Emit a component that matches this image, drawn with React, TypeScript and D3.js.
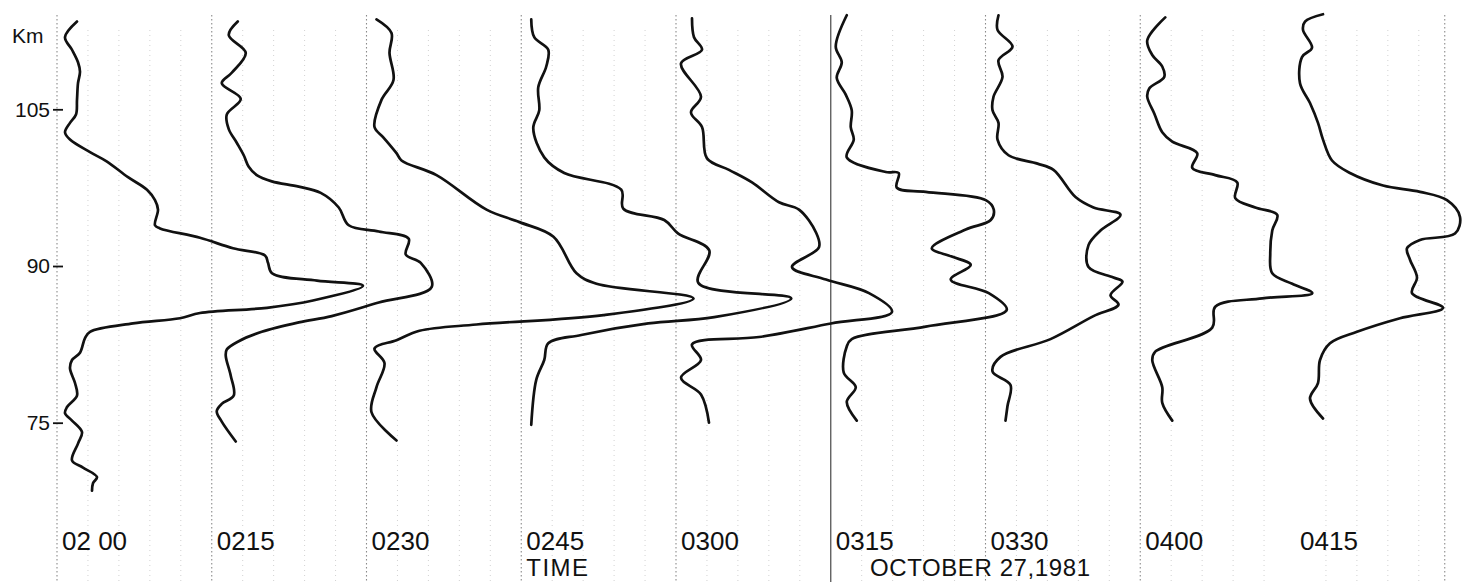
import { useEffect, useRef } from "react";
import { axisLeft, curveCatmullRom, line, scaleLinear, scalePoint, select } from "d3";

// sounding times (0345 is missing in the original figure)
const TIMES = ["0200", "0215", "0230", "0245", "0300", "0315", "0330", "0400", "0415"];
const TIME_LABELS = ["02 00", "0215", "0230", "0245", "0300", "0315", "0330", "0400", "0415"];
const KM_TICKS = [105, 90, 75];

// [altitude km, relative density]
const P0200: [number, number][] = [
  [113.4, 1.5], [111.9, 0.3], [110.7, 1.0], [109.5, 1.6], [108.6, 1.8], [107.5, 1.6],
  [105.9, 1.5], [104.5, 1.4], [103.7, 0.8], [102.8, 0.3], [102.1, 0.8], [100.9, 2.8],
  [100.0, 4.5], [98.5, 6.6], [97.3, 8.5], [96.3, 9.3], [95.4, 9.6], [93.9, 9.3],
  [93.6, 9.8], [92.7, 13.8], [91.7, 17.1], [91.0, 20.3], [90.3, 20.6], [89.3, 21.0],
  [88.6, 25.5], [88.1, 30.1], [86.7, 25.1], [86.0, 20.5], [85.5, 13.8], [85.0, 11.8],
  [84.5, 7.1], [83.7, 2.8], [83.1, 2.3], [81.7, 1.8], [81.0, 1.0], [80.2, 0.8],
  [78.8, 1.3], [77.6, 1.5], [76.5, 0.5], [75.9, 0.3], [75.2, 1.0], [74.1, 2.0],
  [73.0, 1.6], [71.4, 1.0], [70.7, 2.1], [69.8, 3.5], [69.2, 3.1], [68.5, 3.0],
];
const P0215: [number, number][] = [
  [113.4, 2.1], [112.1, 1.2], [110.4, 2.9], [108.5, 1.5], [107.5, 0.5], [106.0, 2.4],
  [104.5, 1.0], [103.1, 1.2], [101.8, 2.0], [100.6, 2.7], [99.5, 3.2], [98.7, 4.0],
  [98.1, 5.5], [97.6, 8.2], [97.0, 10.4], [95.6, 12.2], [93.9, 13.2], [93.3, 16.2],
  [92.6, 19.2], [91.1, 18.9], [90.3, 20.4], [88.0, 21.5], [86.5, 16.2], [85.2, 11.5],
  [84.6, 8.2], [83.7, 4.5], [82.8, 2.2], [82.0, 1.0], [81.4, 0.9], [79.5, 1.4],
  [77.6, 1.7], [76.8, 0.5], [76.1, 0.0], [75.1, 0.5], [73.2, 1.9],
];
const P0230: [number, number][] = [
  [113.6, 0.5], [112.3, 2.0], [110.4, 1.8], [107.8, 2.2], [105.9, 1.0], [103.3, 0.3],
  [102.3, 1.2], [100.8, 2.5], [100.1, 3.0], [98.7, 6.5], [95.4, 11.5], [94.2, 14.8],
  [92.8, 18.2], [89.3, 20.5], [88.3, 22.5], [86.9, 32.2], [85.3, 23.2], [84.4, 10.5],
  [83.8, 4.8], [82.9, 2.5], [82.1, 0.3], [80.7, 1.3], [78.4, 0.5], [76.0, 0.0],
  [73.3, 2.5],
];
const P0245: [number, number][] = [
  [113.6, 0.5], [111.9, 0.8], [110.7, 2.2], [109.1, 2.0], [107.1, 1.2], [104.9, 1.3],
  [103.2, 0.7], [100.4, 1.8], [98.9, 3.8], [97.3, 9.5], [95.5, 9.7], [94.4, 13.8],
  [93.1, 15.2], [91.5, 18.3], [88.4, 17.2], [86.9, 26.5], [85.1, 18.8], [84.5, 12.2],
  [83.4, 5.5], [82.6, 2.2], [81.0, 1.8], [79.1, 1.0], [74.8, 0.5],
];
const P0300: [number, number][] = [
  [113.7, 1.1], [111.9, 1.3], [110.7, 2.1], [109.4, 0.0], [106.2, 2.0], [104.7, 1.0],
  [103.3, 2.1], [100.3, 2.6], [99.2, 4.8], [98.0, 7.1], [96.1, 9.8], [95.4, 11.8],
  [93.2, 13.5], [91.8, 13.8], [89.9, 11.1], [88.7, 14.5], [87.4, 18.8], [85.6, 21.1],
  [84.5, 15.0], [83.2, 7.8], [82.5, 1.1], [81.0, 2.0], [79.3, 0.0], [77.7, 2.0],
  [75.0, 2.8],
];
const P0315: [number, number][] = [
  [114.0, 1.1], [111.0, 0.0], [109.5, 0.6], [108.0, 0.1], [106.4, 1.0], [104.9, 1.6],
  [103.3, 1.5], [102.1, 1.8], [100.4, 1.1], [99.0, 5.0], [98.9, 6.3], [97.5, 6.1],
  [97.1, 9.0], [96.3, 15.0], [95.4, 15.8], [94.4, 15.5], [93.5, 13.0], [91.7, 9.6],
  [90.9, 11.6], [90.1, 13.5], [88.7, 11.5], [87.4, 15.3], [85.8, 17.1], [84.2, 9.0],
  [83.0, 1.6], [82.3, 1.1], [79.8, 0.8], [78.4, 2.0], [77.0, 1.1], [75.2, 2.1],
];
const P0330: [number, number][] = [
  [114.0, 0.8], [112.6, 0.7], [111.0, 2.2], [109.7, 0.8], [108.1, 1.2], [106.2, 0.3],
  [104.9, 0.2], [103.7, 0.8], [102.1, 0.7], [100.6, 1.8], [99.8, 4.7], [99.2, 6.3],
  [96.6, 8.5], [95.6, 10.3], [94.9, 13.0], [93.4, 11.0], [92.0, 9.8], [89.9, 9.8],
  [88.9, 12.3], [88.5, 13.2], [87.2, 12.0], [86.3, 12.8], [85.2, 10.3], [83.0, 6.0],
  [81.3, 1.0], [79.9, 0.2], [78.6, 2.0], [76.6, 1.7], [75.2, 1.5],
];
const P0400: [number, number][] = [
  [113.8, 2.0], [111.6, 0.2], [110.2, 0.7], [109.1, 1.7], [108.1, 1.9], [107.0, 0.4],
  [106.2, 0.2], [104.6, 0.9], [102.8, 1.7], [101.9, 2.7], [100.8, 5.2], [99.4, 4.7],
  [98.7, 7.0], [98.0, 9.2], [96.5, 9.0], [95.6, 11.0], [94.9, 13.2], [93.4, 12.7],
  [91.2, 12.5], [89.3, 12.7], [88.3, 14.7], [87.4, 16.7], [86.9, 11.7], [86.1, 7.0],
  [84.1, 6.7], [81.8, 1.0], [81.0, 0.7], [78.4, 1.7], [76.9, 1.7], [75.2, 2.7],
];
const P0415: [number, number][] = [
  [114.1, 2.3], [113.4, 0.5], [112.6, 0.3], [110.9, 1.2], [110.0, 0.2], [107.5, 0.0],
  [105.6, 1.0], [103.7, 1.8], [102.1, 2.3], [100.1, 3.2], [98.9, 5.0], [97.7, 8.3],
  [97.1, 12.0], [96.3, 14.7], [94.7, 16.0], [93.1, 15.5], [92.5, 12.0], [91.7, 10.7],
  [90.6, 11.0], [88.9, 11.7], [87.4, 11.2], [86.0, 14.3], [85.0, 10.0], [83.7, 5.7],
  [82.6, 3.0], [81.0, 2.0], [78.8, 1.8], [77.3, 1.0], [75.4, 2.3],
];

const PROFILES = [P0200, P0215, P0230, P0245, P0300, P0315, P0330, P0400, P0415];

const WIDTH = 1462;
const HEIGHT = 582;
const FONT = "'Liberation Sans', Arial, sans-serif";

export default function App() {
  const axisRef = useRef<SVGGElement | null>(null);

  const y = scaleLinear().domain([75, 105]).range([422.7, 109.3]);
  const x = scalePoint<string>().domain(TIMES).range([62, 1300]);
  const dens = scaleLinear().domain([0, 10]).range([0, 100]);
  const step = x.step();

  useEffect(() => {
    const g = axisRef.current;
    if (!g) return;
    select(g).selectAll("*").remove();
    select(g)
      .call(axisLeft(y).tickValues(KM_TICKS).tickSize(10).tickPadding(3).tickFormat((v) => String(v)))
      .call((s) => {
        s.select(".domain").remove();
        s.selectAll("line").attr("stroke", "#111").attr("stroke-width", 1.8);
        s.selectAll("text")
          .attr("fill", "#111")
          .attr("font-size", "21px")
          .attr("font-family", FONT);
      });
  }, []);

  // dotted chart-paper grid: a heavier line just left of each sounding, lighter ones between
  const mainLines = TIMES.slice(0, 8).map((t) => (x(t) ?? 0) - 5);
  mainLines.push((x(TIMES[TIMES.length - 1]) ?? 0) + step - 10);
  const minorLines: number[] = [];
  TIMES.forEach((t) => {
    for (let k = 1; k < 5; k++) minorLines.push((x(t) ?? 0) - 5 + (k * step) / 5);
  });

  return (
    <svg
      width={WIDTH}
      height={HEIGHT}
      style={{ position: "absolute", left: 0, top: 0, background: "#fff" }}
    >
      <g>
        {minorLines.map((gx, i) => (
          <line key={`m${i}`} x1={gx} x2={gx} y1={30} y2={HEIGHT} stroke="#d2d2d2" strokeWidth={1} strokeDasharray="1 4" />
        ))}
        {mainLines.map((gx, i) => (
          <line
            key={`g${i}`}
            x1={gx}
            x2={gx}
            y1={15}
            y2={HEIGHT}
            stroke={i === 5 ? "#555" : "#8a8a8a"}
            strokeWidth={i === 5 ? 1.3 : 1.1}
            strokeDasharray={i === 5 ? undefined : "1.5 2.5"}
          />
        ))}
      </g>

      {PROFILES.map((prof, i) => {
        const base = x(TIMES[i]) ?? 0;
        const gen = line<[number, number]>()
          .x((d) => base + dens(d[1]))
          .y((d) => y(d[0]))
          .curve(curveCatmullRom.alpha(0.5));
        return (
          <path
            key={TIMES[i]}
            d={gen(prof) ?? ""}
            fill="none"
            stroke="#111"
            strokeWidth={2.7}
            strokeLinejoin="round"
            strokeLinecap="round"
          />
        );
      })}

      <g ref={axisRef} transform="translate(63,0)" />
      <text x={12} y={43} fontSize={21} fontFamily={FONT} fill="#111">
        Km
      </text>

      {TIMES.map((t, i) => (
        <text key={`l${t}`} x={x(t)} y={550} fontSize={26} fontFamily={FONT} fill="#111">
          {TIME_LABELS[i]}
        </text>
      ))}
      <text x={x("0245")} y={576} fontSize={24} letterSpacing={1.5} fontFamily={FONT} fill="#111">
        TIME
      </text>
      <text x={870} y={576} fontSize={24} fontFamily={FONT} fill="#111" textLength={220}>
        OCTOBER 27,1981
      </text>
    </svg>
  );
}
